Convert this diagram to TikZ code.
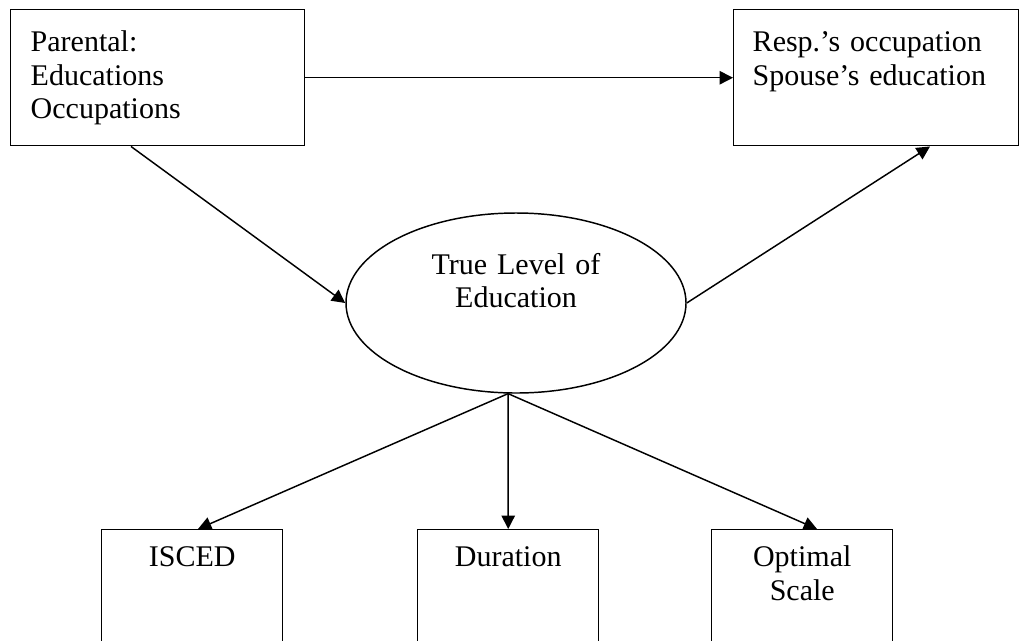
\documentclass[tikz,border=0pt]{standalone}
\usepackage{fontspec}
\setmainfont{Liberation Serif}
\usetikzlibrary{arrows.meta, positioning, calc, shapes.geometric}

\begin{document}
\begin{tikzpicture}[x=0.75pt, y=-0.75pt,
  obs/.style={draw, line width=1.1pt, anchor=north west, inner ysep=0pt,
    font=\fontsize{22.5}{25}\selectfont},
  topbox/.style={obs, align=left, text height=31.5pt, text depth=70.5pt},
  lowbox/.style={obs, align=center, inner xsep=3.75pt, text width=128.25pt,
    text height=27.75pt, text depth=92pt},
  latent/.style={ellipse, draw, line width=1.1pt, inner sep=0pt, align=center,
    text width=150pt, text height=18.75pt, text depth=62.25pt,
    minimum width=255pt, minimum height=135pt, font=\fontsize{22.5}{25}\selectfont},
  link/.style={-{Triangle[length=10pt, width=10pt]}, line width=1.1pt}]
\useasboundingbox (0,0) rectangle (1020,640);
\clip (0,0) rectangle (1020,640);
% upper row
\node[topbox, inner xsep=15pt, text width=190.5pt] (par) at (10,9)
  {Parental:\\Educations\\Occupations};
\node[topbox, inner xsep=14.25pt, text width=185.25pt] (resp) at (733,9)
  {Resp.’s occupation\\Spouse’s education};
% latent variable
\node[latent] (edu) at (516,303) {True Level of\\Education};
% indicators
\node[lowbox] (isced) at (101,529) {ISCED};
\node[lowbox] (dur) at (417,529) {Duration};
\node[lowbox] (opt) at (711,529) {Optimal\\Scale};
% paths
\draw[link] (par.east) -- (resp.west);
\draw[link] ($(par.south west)+(121,0)$) -- (edu.west);
\draw[link] (edu.east) -- ($(resp.south west)+(197,0)$);
\draw[link] (edu.265) -- ($(isced.north west)+(97,0)$);
\draw[link] (edu.265) -- (dur.north);
\draw[link] (edu.265) -- ($(opt.north west)+(106,0)$);
\end{tikzpicture}
\end{document}
